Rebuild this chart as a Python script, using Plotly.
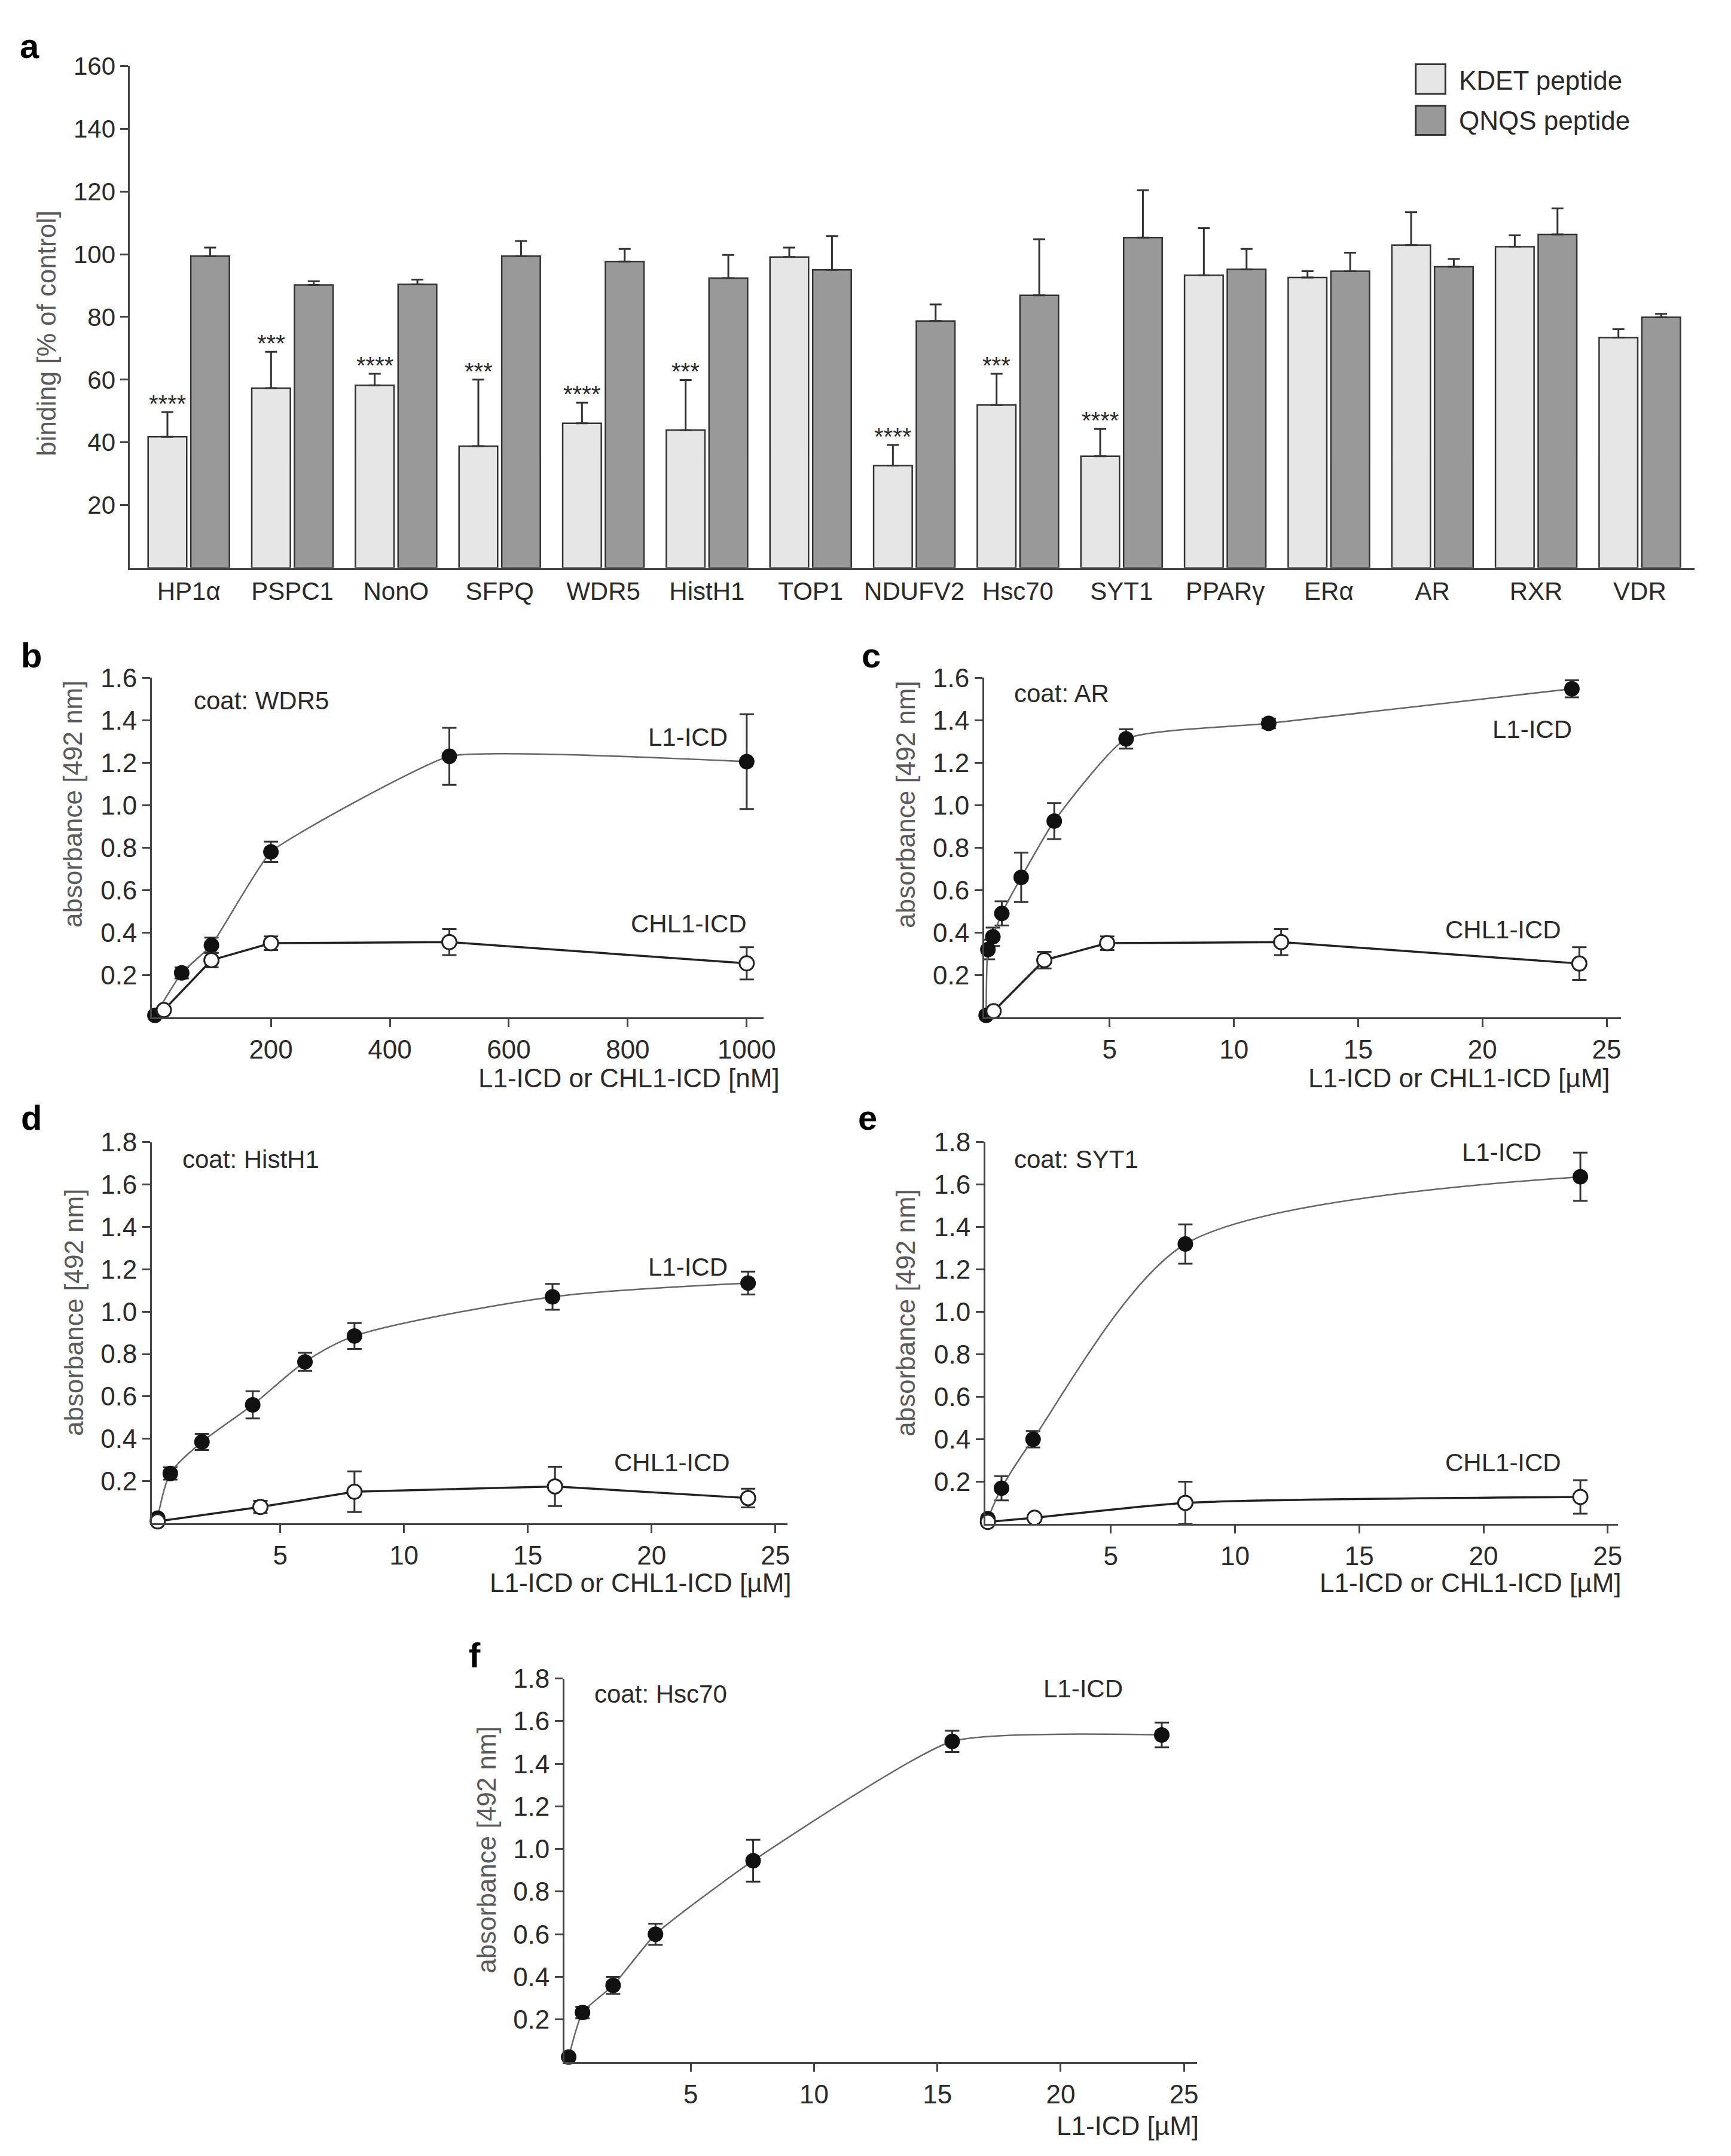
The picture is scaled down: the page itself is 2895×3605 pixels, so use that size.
import plotly.graph_objects as go

W, H = 2895, 3605
def px(x): return x / W
def py(y): return 1 - y / H

FONT = "Liberation Sans, Arial, sans-serif"
TXT = "#2a2a2a"
AX = "#444444"

# ---------------- panel a data ----------------
categories = ["HP1α", "PSPC1", "NonO", "SFPQ", "WDR5", "HistH1", "TOP1", "NDUFV2",
              "Hsc70", "SYT1", "PPARγ", "ERα", "AR", "RXR", "VDR"]
kdet = [41.8, 57.3, 58.2, 38.8, 46.1, 43.9, 99.1, 32.6, 51.9, 35.6, 93.3, 92.6, 102.9, 102.4, 73.4]
kdet_err = [7.9, 11.6, 3.7, 21.2, 6.6, 16.0, 3.0, 6.6, 10.0, 8.7, 15.0, 2.0, 10.5, 3.6, 2.7]
qnqs = [99.4, 90.2, 90.4, 99.4, 97.7, 92.4, 95.0, 78.7, 86.9, 105.3, 95.2, 94.6, 96.0, 106.3, 79.9]
qnqs_err = [2.7, 1.2, 1.5, 4.8, 4.0, 7.4, 10.8, 5.3, 17.9, 15.1, 6.5, 5.9, 2.5, 8.3, 1.1]
stars = ["****", "***", "****", "***", "****", "***", "", "****", "***", "****", "", "", "", "", ""]
a_yticks = [20, 40, 60, 80, 100, 120, 140, 160]

# ---------------- panel b (coat: WDR5) ----------------
b_l1_x = [5, 50, 100, 200, 500, 1000]
b_l1_y = [0.01, 0.21, 0.34, 0.78, 1.23, 1.205]
b_l1_e = [0, 0.026, 0.036, 0.048, 0.134, 0.223]
b_chl_x = [20, 100, 200, 500, 1000]
b_chl_y = [0.035, 0.27, 0.35, 0.355, 0.255]
b_chl_e = [0, 0.034, 0.032, 0.061, 0.076]

# ---------------- panel c (coat: AR) ----------------
c_l1_x = [0.03, 0.1, 0.3, 0.66, 1.44, 2.77, 5.66, 11.4, 23.6]
c_l1_y = [0.01, 0.32, 0.38, 0.49, 0.66, 0.925, 1.312, 1.385, 1.548]
c_l1_e = [0, 0.046, 0.043, 0.057, 0.116, 0.085, 0.046, 0.023, 0.04]
c_chl_x = [0.33, 2.37, 4.9, 11.9, 23.9]
c_chl_y = [0.03, 0.27, 0.35, 0.355, 0.254]
c_chl_e = [0, 0.039, 0.032, 0.061, 0.077]

# ---------------- panel d (coat: HistH1) ----------------
d_l1_x = [0.05, 0.56, 1.84, 3.89, 6.0, 8.0, 16.0, 23.9]
d_l1_y = [0.025, 0.236, 0.385, 0.56, 0.763, 0.885, 1.07, 1.135]
d_l1_e = [0, 0.029, 0.038, 0.064, 0.043, 0.061, 0.061, 0.054]
d_chl_x = [0.05, 4.2, 8.0, 16.1, 23.9]
d_chl_y = [0.01, 0.078, 0.15, 0.175, 0.12]
d_chl_e = [0, 0.029, 0.096, 0.093, 0.044]

# ---------------- panel e (coat: SYT1) ----------------
e_l1_x = [0.05, 0.6, 1.87, 8.0, 23.9]
e_l1_y = [0.025, 0.169, 0.40, 1.32, 1.637]
e_l1_e = [0, 0.057, 0.039, 0.093, 0.114]
e_chl_x = [0.05, 1.93, 8.0, 23.9]
e_chl_y = [0.01, 0.03, 0.10, 0.128]
e_chl_e = [0, 0.008, 0.1, 0.079]

# ---------------- panel f (coat: Hsc70) ----------------
f_l1_x = [0.05, 0.61, 1.85, 3.57, 7.53, 15.6, 24.1]
f_l1_y = [0.024, 0.233, 0.36, 0.60, 0.945, 1.505, 1.535]
f_l1_e = [0, 0.027, 0.04, 0.05, 0.098, 0.05, 0.058]

absorb_ticks_16 = [0.2, 0.4, 0.6, 0.8, 1.0, 1.2, 1.4, 1.6]
absorb_ticks_18 = [0.2, 0.4, 0.6, 0.8, 1.0, 1.2, 1.4, 1.6, 1.8]
nm_ticks = [200, 400, 600, 800, 1000]
um_ticks = [5, 10, 15, 20, 25]

fig = go.Figure()

# ---------------- bars ----------------
fig.add_trace(go.Bar(
    x=categories, y=kdet, name="KDET peptide", xaxis="x", yaxis="y",
    marker=dict(color="#e6e6e6", line=dict(color="#333333", width=2.5)),
    error_y=dict(type="data", symmetric=False, array=kdet_err, arrayminus=[0] * len(kdet),
                 color="#333333", thickness=3, width=10),
))
fig.add_trace(go.Bar(
    x=categories, y=qnqs, name="QNQS peptide", xaxis="x", yaxis="y",
    marker=dict(color="#999999", line=dict(color="#333333", width=2.5)),
    error_y=dict(type="data", symmetric=False, array=qnqs_err, arrayminus=[0] * len(qnqs),
                 color="#333333", thickness=3, width=10),
))


def add_curves(xa, ya, l1x, l1y, l1e, chx=None, chy=None, che=None, ch_spline=False, smooth=0.8):
    fig.add_trace(go.Scatter(
        x=l1x, y=l1y, xaxis=xa, yaxis=ya, mode="lines+markers", cliponaxis=False,
        line=dict(color="#666666", width=2.5, shape="spline", smoothing=smooth),
        marker=dict(color="#111111", size=26, line=dict(width=0)),
        error_y=dict(type="data", array=l1e, color="#333333", thickness=3, width=12),
    ))
    if chx is not None:
        fig.add_trace(go.Scatter(
            x=chx, y=chy, xaxis=xa, yaxis=ya, mode="lines+markers", cliponaxis=False,
            line=dict(color="#222222", width=3.5,
                      shape="spline" if ch_spline else "linear", smoothing=0.6),
            marker=dict(color="white", size=24, line=dict(color="#222222", width=3)),
            error_y=dict(type="data", array=che, color="#333333", thickness=3, width=12),
        ))


add_curves("x2", "y2", b_l1_x, b_l1_y, b_l1_e, b_chl_x, b_chl_y, b_chl_e, smooth=0.35)
add_curves("x3", "y3", c_l1_x, c_l1_y, c_l1_e, c_chl_x, c_chl_y, c_chl_e, smooth=0.5)
add_curves("x4", "y4", d_l1_x, d_l1_y, d_l1_e, d_chl_x, d_chl_y, d_chl_e, smooth=0.8)
add_curves("x5", "y5", e_l1_x, e_l1_y, e_l1_e, e_chl_x, e_chl_y, e_chl_e, ch_spline=True, smooth=0.8)
add_curves("x6", "y6", f_l1_x, f_l1_y, f_l1_e, smooth=0.5)


def axis_common(**kw):
    d = dict(showline=True, linecolor=AX, linewidth=3, ticks="outside", ticklen=13,
             tickwidth=3, tickcolor=AX, showgrid=False, zeroline=False,
             tickfont=dict(family=FONT, size=44, color=TXT))
    d.update(kw)
    return d


layout = dict(
    width=W, height=H, margin=dict(l=0, r=0, t=0, b=0),
    paper_bgcolor="white", plot_bgcolor="white", showlegend=False,
    barmode="group", bargap=0.176, bargroupgap=0.096,
    font=dict(family=FONT, color=TXT),
)

# panel a axes
layout["xaxis"] = axis_common(domain=[px(219), px(2855)], anchor="y", type="category",
                              range=[-0.567, 14.53], ticks="", tickfont=dict(family=FONT, size=42, color=TXT))
layout["yaxis"] = axis_common(domain=[py(931), py(86)], anchor="x", range=[0, 160],
                              tickvals=a_yticks, tickfont=dict(family=FONT, size=42, color=TXT))

panels = {
    2: dict(xd=[256, 1286], yd=[1116, 1688], xr=[0, 1028], yr=[0, 1.6], xt=nm_ticks, yt=absorb_ticks_16),
    3: dict(xd=[1658, 2731], yd=[1116, 1688], xr=[-0.05, 25.58], yr=[0, 1.6], xt=um_ticks, yt=absorb_ticks_16),
    4: dict(xd=[256, 1327], yd=[1898, 2540], xr=[-0.18, 25.5], yr=[0, 1.8], xt=um_ticks, yt=absorb_ticks_18),
    5: dict(xd=[1660, 2726], yd=[1898, 2541], xr=[-0.05, 25.42], yr=[0, 1.8], xt=um_ticks, yt=absorb_ticks_18),
    6: dict(xd=[951, 2017], yd=[2801, 3447], xr=[-0.12, 25.54], yr=[0, 1.8], xt=um_ticks, yt=absorb_ticks_18),
}
for k, p in panels.items():
    layout[f"xaxis{k}"] = axis_common(domain=[px(p["xd"][0]), px(p["xd"][1])], anchor=f"y{k}",
                                      range=p["xr"], tickvals=p["xt"])
    layout[f"yaxis{k}"] = axis_common(domain=[py(p["yd"][1]), py(p["yd"][0])], anchor=f"x{k}",
                                      range=p["yr"], tickvals=p["yt"], tickformat=".1f")

annotations = []


def txt(x, y, text, size=42, color=TXT, xanchor="center", yanchor="middle", bold=False, angle=0):
    annotations.append(dict(
        x=px(x), y=py(y), xref="paper", yref="paper", text=f"<b>{text}</b>" if bold else text,
        showarrow=False, xanchor=xanchor, yanchor=yanchor, textangle=angle,
        font=dict(family=FONT, size=size, color=color)))


# stars on panel a
for i, s in enumerate(stars):
    if s:
        annotations.append(dict(
            x=i - 0.206, y=kdet[i] + kdet_err[i], xref="x", yref="y", text=s, showarrow=False,
            xanchor="center", yanchor="bottom", yshift=-10,
            font=dict(family=FONT, size=40, color=TXT)))

# panel letters
txt(50, 52, "a", size=58, color="#000", bold=True)
txt(53, 1078, "b", size=58, color="#000", bold=True)
txt(1468, 1078, "c", size=58, color="#000", bold=True)
txt(53, 1856, "d", size=58, color="#000", bold=True)
txt(1462, 1856, "e", size=58, color="#000", bold=True)
txt(800, 2762, "f", size=58, color="#000", bold=True)

# y-axis titles
YT = "#5a5a5a"
txt(78, 536, "binding [% of control]", size=44, color=YT, angle=-90)
txt(123, 1329, "absorbance [492 nm]", size=44, color=YT, angle=-90)
txt(1526, 1329, "absorbance [492 nm]", size=44, color=YT, angle=-90)
txt(125, 2185, "absorbance [492 nm]", size=44, color=YT, angle=-90)
txt(1526, 2185, "absorbance [492 nm]", size=44, color=YT, angle=-90)
txt(820, 3090, "absorbance [492 nm]", size=44, color=YT, angle=-90)

# x-axis titles
txt(1316, 1790, "L1-ICD or CHL1-ICD [nM]", size=44, xanchor="right")
txt(2715, 1790, "L1-ICD or CHL1-ICD [µM]", size=44, xanchor="right")
txt(1336, 2640, "L1-ICD or CHL1-ICD [µM]", size=44, xanchor="right")
txt(2734, 2640, "L1-ICD or CHL1-ICD [µM]", size=44, xanchor="right")
txt(2022, 3554, "L1-ICD [µM]", size=44, xanchor="right")

# coat labels
txt(324, 1155, "coat: WDR5", xanchor="left")
txt(1706, 1142, "coat: AR", xanchor="left")
txt(305, 1927, "coat: HistH1", xanchor="left")
txt(1706, 1927, "coat: SYT1", xanchor="left")
txt(999, 2827, "coat: Hsc70", xanchor="left")

# series labels
txt(1159, 1216, "L1-ICD")
txt(1160, 1530, "CHL1-ICD")
txt(2581, 1203, "L1-ICD")
txt(2532, 1540, "CHL1-ICD")
txt(1159, 2108, "L1-ICD")
txt(1132, 2437, "CHL1-ICD")
txt(2530, 1915, "L1-ICD")
txt(2532, 2437, "CHL1-ICD")
txt(1825, 2818, "L1-ICD")

# legend (manual)
shapes = [
    dict(type="rect", xref="paper", yref="paper", x0=px(2385), x1=px(2435), y0=py(133), y1=py(83),
         fillcolor="#e6e6e6", line=dict(color="#333333", width=3)),
    dict(type="rect", xref="paper", yref="paper", x0=px(2385), x1=px(2435), y0=py(202), y1=py(153),
         fillcolor="#999999", line=dict(color="#333333", width=3)),
]
txt(2456, 110, "KDET peptide", size=44, xanchor="left")
txt(2456, 178, "QNQS peptide", size=44, xanchor="left")

layout["annotations"] = annotations
layout["shapes"] = shapes
fig.update_layout(**layout)
fig.write_html("out.html")
